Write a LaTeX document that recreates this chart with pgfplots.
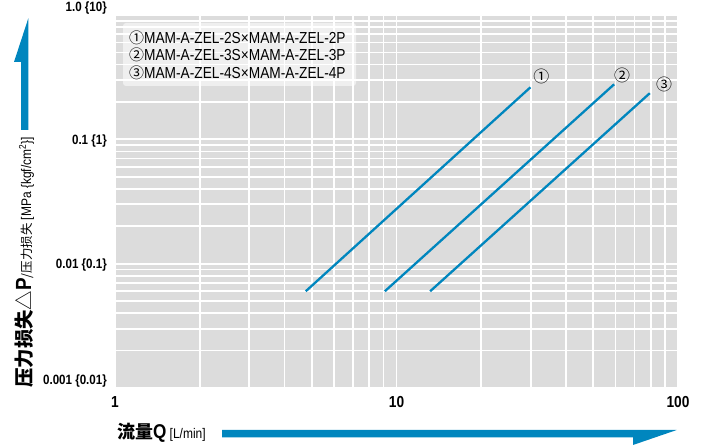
\documentclass[border=0pt]{standalone}
\usepackage{fontspec}
\usepackage{pgfplots}
\pgfplotsset{compat=1.18}
\setmainfont{Liberation Sans}
\newfontfamily\cond[FakeStretch=0.86]{Liberation Sans}
\newfontfamily\cjk{Noto Sans CJK JP}
\definecolor{lineblue}{RGB}{0,134,190}
\definecolor{bggray}{RGB}{220,220,220}
\begin{document}
\begin{tikzpicture}[x=1bp,y=1bp]
\useasboundingbox (0,0) rectangle (706,445);
\begin{axis}[
  at={(115bp,57bp)}, anchor=south west,
  width=563bp, height=373bp, scale only axis,
  xmode=log, ymode=log,
  xmin=1, xmax=100, ymin=0.001, ymax=1,
  axis background/.style={fill=bggray},
  axis line style={draw=none},
  major tick length=0pt, minor tick length=0pt,
  xtick={1,10,100}, xticklabels={1,10,100},
  ytick={0.001,0.01,0.1,1},
  yticklabels={\raisebox{3.5bp}[0pt][0pt]{0.001 \{0.01\}},\raisebox{-4.5bp}[0pt][0pt]{0.01 \{0.1\}},\raisebox{-5.5bp}[0pt][0pt]{0.1 \{1\}},\raisebox{3bp}[0pt][0pt]{1.0 \{10\}}},
  minor xtick={2,3,4,5,6,7,8,9,20,30,40,50,60,70,80,90},
  minor ytick={0.002,0.003,0.004,0.005,0.006,0.007,0.008,0.009,0.02,0.03,0.04,0.05,0.06,0.07,0.08,0.09,0.2,0.3,0.4,0.5,0.6,0.7,0.8,0.9},
  grid=both,
  major grid style={white, line width=1.7bp},
  minor grid style={white, line width=1.7bp},
  yticklabel style={font=\cond\bfseries\fontsize{13.5}{13.5}\selectfont, anchor=east, inner sep=0pt, xshift=-8bp},
  xticklabel style={font=\cond\bfseries\fontsize{16}{16}\selectfont, anchor=north, inner sep=0pt, yshift=-8bp},
  clip=false,
]
\addplot[lineblue, line width=2.3bp] coordinates {(4.76,0.0060) (29.9,0.262)};
\addplot[lineblue, line width=2.3bp] coordinates {(9.09,0.0060) (59.3,0.277)};
\addplot[lineblue, line width=2.3bp] coordinates {(13.17,0.0060) (79.4,0.235)};
\node[font=\cjk\fontsize{16}{16}\selectfont] at (axis cs:32.7,0.318) {①};
\node[font=\cjk\fontsize{16}{16}\selectfont] at (axis cs:63.3,0.324) {②};
\node[font=\cjk\fontsize{16}{16}\selectfont] at (axis cs:89.2,0.274) {③};
\end{axis}
% legend box
\fill[white, opacity=0.55, rounded corners=3bp] (123,359) rectangle (356,422);
\node[anchor=base west, inner sep=0pt] at (129,401.7) {{\cjk\fontsize{15}{15}\selectfont ①}{\cond\fontsize{16}{16}\selectfont MAM-A-ZEL-2S×MAM-A-ZEL-2P}};
\node[anchor=base west, inner sep=0pt] at (129,384.2) {{\cjk\fontsize{15}{15}\selectfont ②}{\cond\fontsize{16}{16}\selectfont MAM-A-ZEL-3S×MAM-A-ZEL-3P}};
\node[anchor=base west, inner sep=0pt] at (129,366.7) {{\cjk\fontsize{15}{15}\selectfont ③}{\cond\fontsize{16}{16}\selectfont MAM-A-ZEL-4S×MAM-A-ZEL-4P}};
% y label
\node[rotate=90, anchor=base west, inner sep=0pt] at (31,57) {{\cjk\bfseries\fontsize{19.5}{19.5}\selectfont 压力损失}{\cjk\fontsize{19.5}{19.5}\selectfont △}{\cond\bfseries\fontsize{22}{22}\selectfont P}{\cjk\fontsize{12.5}{12.5}\selectfont /压力损失}{\cond\fontsize{14}{14}\selectfont\ [MPa \{kgf/cm\textsuperscript{2}\}]}};
% x label
\node[anchor=base west, inner sep=0pt] at (117,6) {{\cjk\bfseries\fontsize{18}{18}\selectfont 流量}{\cond\bfseries\fontsize{20}{20}\selectfont Q}{\cond\fontsize{14}{14}\selectfont\ [L/min]}};
% arrows
\fill[lineblue] (21,315) -- (28.3,315) -- (28.3,426.7) -- (14,383) -- (21,383) -- cycle;
\fill[lineblue] (222,15) -- (676.7,15) -- (633,0) -- (633,7.7) -- (222,7.7) -- cycle;
\end{tikzpicture}
\end{document}
